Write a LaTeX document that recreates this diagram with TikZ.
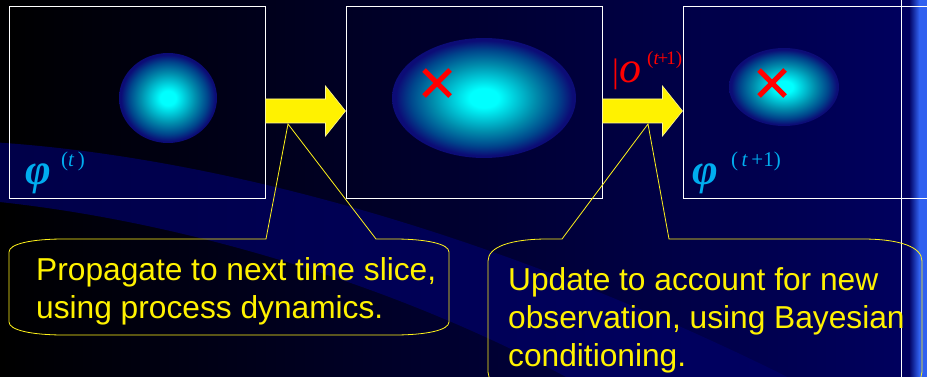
\documentclass[tikz,border=0pt]{standalone}
\usepackage{fontspec}
\setmainfont{Liberation Sans}
\newfontfamily\timesfont{Liberation Serif}
\usetikzlibrary{positioning}

\definecolor{bgnavy}{RGB}{0,0,96}
\definecolor{bandnavy}{RGB}{0,0,104}
\definecolor{blobmid}{RGB}{0,140,172}
\definecolor{blobdeep}{RGB}{0,70,140}
\definecolor{blobedge}{RGB}{12,12,118}
\definecolor{stripeblue}{RGB}{48,96,240}
\pgfdeclareradialshading{blobshade}{\pgfpoint{0bp}{0bp}}{%
  color(0bp)=(cyan); color(4bp)=(cyan); color(14bp)=(blobmid);
  color(20bp)=(blobdeep); color(24bp)=(blobedge); color(50bp)=(blobedge)}

\begin{document}
\begin{tikzpicture}[
  x=1pt, y=-1pt,
  frame/.style={draw=white, line width=1pt, minimum width=256pt, minimum height=192pt, inner sep=0pt},
  blob/.style={shading=blobshade},
  redx/.style={draw=red, line width=5pt},
  blockarrow/.style={fill=yellow, draw=white!60!yellow, line width=0.6pt},
  callout/.style={draw=yellow!90!white, line width=0.8pt},
  note/.style={text=yellow, font=\fontsize{31.7}{38}\selectfont, align=left, inner sep=0pt},
  phi/.style={text=cyan, inner sep=0pt, font=\timesfont\bfseries\itshape\fontsize{44}{44}\selectfont},
  exponent/.style={text=cyan, inner sep=0pt, font=\timesfont\fontsize{21}{21}\selectfont},
  obs/.style={text=red, inner sep=0pt, font=\timesfont\fontsize{34}{34}\selectfont}
]
\useasboundingbox (0,0) rectangle (927,377);
\clip (0,0) rectangle (927,377);

% background and swoosh
\shade[left color=black, right color=bgnavy] (0,0) rectangle (927,377);
\fill[bandnavy, opacity=0.7] (-10,142) .. controls (250,158) and (600,260) .. (960,470)
  -- (640,420) .. controls (450,300) and (200,222) .. (-10,201) -- cycle;
\shade[left color=bgnavy, right color=stripeblue] (909,0) rectangle (919,377);
\fill[stripeblue] (919,0) rectangle (927,377);
\draw[white, line width=1pt] (901,0) -- (901,377);

% the three densities
\node[frame] (prior) at (137,103) {};
\node[frame, right=80pt of prior] (pred) {};
\node[frame, right=80pt of pred] (post) {};

\shade[blob] (168,98) ellipse [x radius=49pt, y radius=45pt];
\shade[blob] (484,98) ellipse [x radius=92pt, y radius=60pt];
\shade[blob] (784,87) ellipse [x radius=55pt, y radius=39pt];

\draw[redx] (424,70) -- (450,96) (450,70) -- (424,96);
\draw[redx] (759,70) -- (785,96) (785,70) -- (759,96);

\node[phi, anchor=base west] (phiprior) at (25,185) {φ};
\node[exponent, anchor=base west] (tprior) at (61,167) {(\textit{t}\,)};
\node[phi, anchor=base west] (phipost) at (692,185) {φ};
\node[exponent, anchor=base west] (tpost) at (731,167) {(\,\textit{t}\,+1)};
\node[obs, anchor=base west] (obsbar) at (612,83) {|\fontsize{44}{44}\selectfont\textit{o}};
\node[obs, anchor=base west, font=\timesfont\fontsize{19}{19}\selectfont] (obstime) at (647,65) {(\textit{t}\kern-1.5pt+\kern-2pt1)};

% block arrows
\filldraw[blockarrow] (prior.east) ++(0,-4) -- ++(60,0) -- ++(0,-13) -- ++(20,25)
  -- ++(-20,25) -- ++(0,-13) -- ++(-60,0) -- cycle;
\filldraw[blockarrow] (pred.east) ++(0,-4) -- ++(60,0) -- ++(0,-13) -- ++(20,25)
  -- ++(-20,25) -- ++(0,-13) -- ++(-60,0) -- cycle;

% callouts
\coordinate (tipa) at (288,124);
\coordinate (tipb) at (648,124);
\draw[callout] (266,239) -- (tipa) -- (376,239) -- (394,239)
  .. controls (427,239) and (449,244) .. (449,252) -- (449,322)
  .. controls (449,330) and (427,335) .. (394,335) -- (64,335)
  .. controls (31,335) and (9,330) .. (9,322) -- (9,252)
  .. controls (9,244) and (31,239) .. (64,239) -- cycle;
\draw[callout] (562,239) -- (tipb) -- (669,239) -- (862,239)
  .. controls (900,239) and (922,247) .. (922,261) -- (922,372)
  .. controls (922,386) and (900,394) .. (862,394) -- (548,394)
  .. controls (510,394) and (488,386) .. (488,372) -- (488,261)
  .. controls (488,247) and (510,239) .. (548,239) -- cycle;

\node[note, anchor=base west] (propnote) at (36,318) {Propagate to next time slice,\\using process dynamics.};
\node[note, anchor=base west] (updnote) at (508,366) {Update to account for new\\observation, using Bayesian\\conditioning.};
\end{tikzpicture}
\end{document}
